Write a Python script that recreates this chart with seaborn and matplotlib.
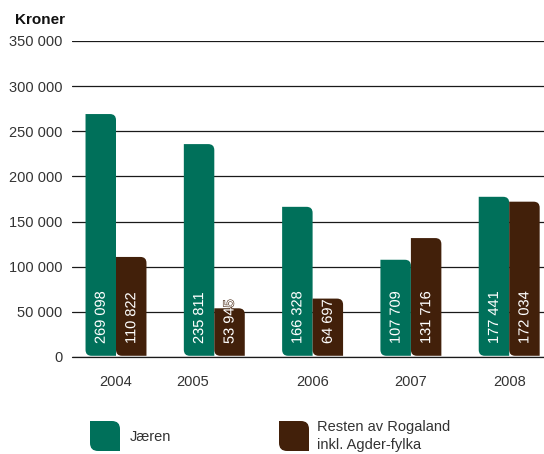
import matplotlib
matplotlib.use("Agg")
import matplotlib.pyplot as plt
import seaborn as sns
import pandas as pd
import numpy as np
from matplotlib.path import Path
from matplotlib.patches import PathPatch
import matplotlib.transforms as mtransforms
import matplotlib.patheffects as pe

years = ["2004", "2005", "2006", "2007", "2008"]
series_names = ["Jæren", "Resten av Rogaland\ninkl. Agder-fylka"]
jaeren = [269098, 235811, 166328, 107709, 177441]
resten = [110822, 53945, 64697, 131716, 172034]
value_labels_j = ["269 098", "235 811", "166 328", "107 709", "177 441"]
value_labels_r = ["110 822", "53 945", "64 697", "131 716", "172 034"]
yticks = [0, 50000, 100000, 150000, 200000, 250000, 300000, 350000]
ytick_labels = ["0", "50 000", "100 000", "150 000", "200 000", "250 000", "300 000", "350 000"]
colors = ["#00705A", "#42200A"]

sns.set_style("white")
plt.rcParams["font.family"] = ["Liberation Sans", "DejaVu Sans"]

df = pd.DataFrame({
    "year": years * 2,
    "value": jaeren + resten,
    "region": [series_names[0]] * 5 + [series_names[1]] * 5,
})

fig = plt.figure(figsize=(5.44, 4.54), dpi=100)
ax = fig.add_axes([72 / 544, 1 - 357 / 454, 1 - 72 / 544, (357 - 41) / 454])

sns.barplot(data=df, x="year", y="value", hue="region", palette=colors,
            width=0.62, gap=0, saturation=1, ax=ax, legend=False, errorbar=None)

ax.set_ylim(0, 350000)
ax.set_xlim(-(116 - 72) / 98.3, (544 - 116) / 98.3)
ax.set_yticks(yticks)
ax.set_yticklabels(ytick_labels)
ax.set_axisbelow(True)
ax.grid(axis="y", color="#1a1a1a", linewidth=0.9)
ax.grid(axis="x", visible=False)
for s in ax.spines.values():
    s.set_visible(False)
ax.tick_params(axis="both", length=0, labelsize=10.5, colors="#333333")
ax.tick_params(axis="y", pad=7)
ax.tick_params(axis="x", pad=13)
ax.set_xlabel("")
ax.set_ylabel("")

# x tick label for 2005 is shifted left in the reference
for lab in ax.get_xticklabels():
    if lab.get_text() == "2005":
        lab.set_transform(lab.get_transform() + mtransforms.ScaledTranslation(-22 / 100, 0, fig.dpi_scale_trans))

# round corners (top-right and bottom-left)
px_x = 1 / 98.3
px_y = 350000 / 316
rx, ry = 6 * px_x, 6 * px_y


def rounded_path(x0, y0, x1, y1, rx, ry):
    verts = [
        (x0 + rx, y0), (x1, y0), (x1, y1 - ry), (x1, y1), (x1 - rx, y1),
        (x0, y1), (x0, y0 + ry), (x0, y0), (x0 + rx, y0), (x0 + rx, y0),
    ]
    codes = [Path.MOVETO, Path.LINETO, Path.LINETO, Path.CURVE3, Path.CURVE3,
             Path.LINETO, Path.LINETO, Path.CURVE3, Path.CURVE3, Path.CLOSEPOLY]
    return Path(verts, codes)


bars = [p for p in ax.patches]
for p in bars:
    x0, y0 = p.get_x(), p.get_y()
    w, h = p.get_width(), p.get_height()
    fc = p.get_facecolor()
    p.remove()
    pp = PathPatch(rounded_path(x0, y0 + 1.2 * px_y, x0 + w, y0 + h, rx, ry), facecolor=fc,
                   edgecolor="none", zorder=2)
    ax.add_patch(pp)

ax.axhline(0, color="#1a1a1a", linewidth=0.9, zorder=1.5, clip_on=False)

bw = 0.31
for i in range(len(years)):
    for k, (vals, labs, col) in enumerate([(jaeren, value_labels_j, colors[0]),
                                          (resten, value_labels_r, colors[1])]):
        xc = i - bw / 2 + k * bw
        ax.text(xc, 13 * px_y, labs[i], rotation=90, rotation_mode="anchor",
                ha="left", va="center", color="white", fontsize=10.5, zorder=3,
                path_effects=[pe.withStroke(linewidth=0.8, foreground=col)])

fig.text(15 / 544, 1 - 20 / 454, "Kroner", fontweight="bold", fontsize=11,
         va="center", ha="left", color="#111111")

# legend
def legend_patch(xpix, ypix_top, size, color, r=8):
    x0, x1 = xpix, xpix + size
    y1 = 454 - ypix_top
    y0 = y1 - size
    path = rounded_path(x0, y0, x1, y1, r, r)
    fig.patches.append(PathPatch(path, facecolor=color, edgecolor="none",
                                 transform=mtransforms.Affine2D().scale(1 / 544, 1 / 454) + fig.transFigure))

legend_patch(90, 421, 30, colors[0])
legend_patch(279, 421, 30, colors[1])
fig.text(130 / 544, 1 - 437 / 454, series_names[0], fontsize=10.5, va="center", color="#333333")
fig.text(317 / 544, 1 - 436 / 454, series_names[1], fontsize=10.5, va="center",
         color="#333333", linespacing=1.3)

fig.savefig("out.png", dpi=100)
